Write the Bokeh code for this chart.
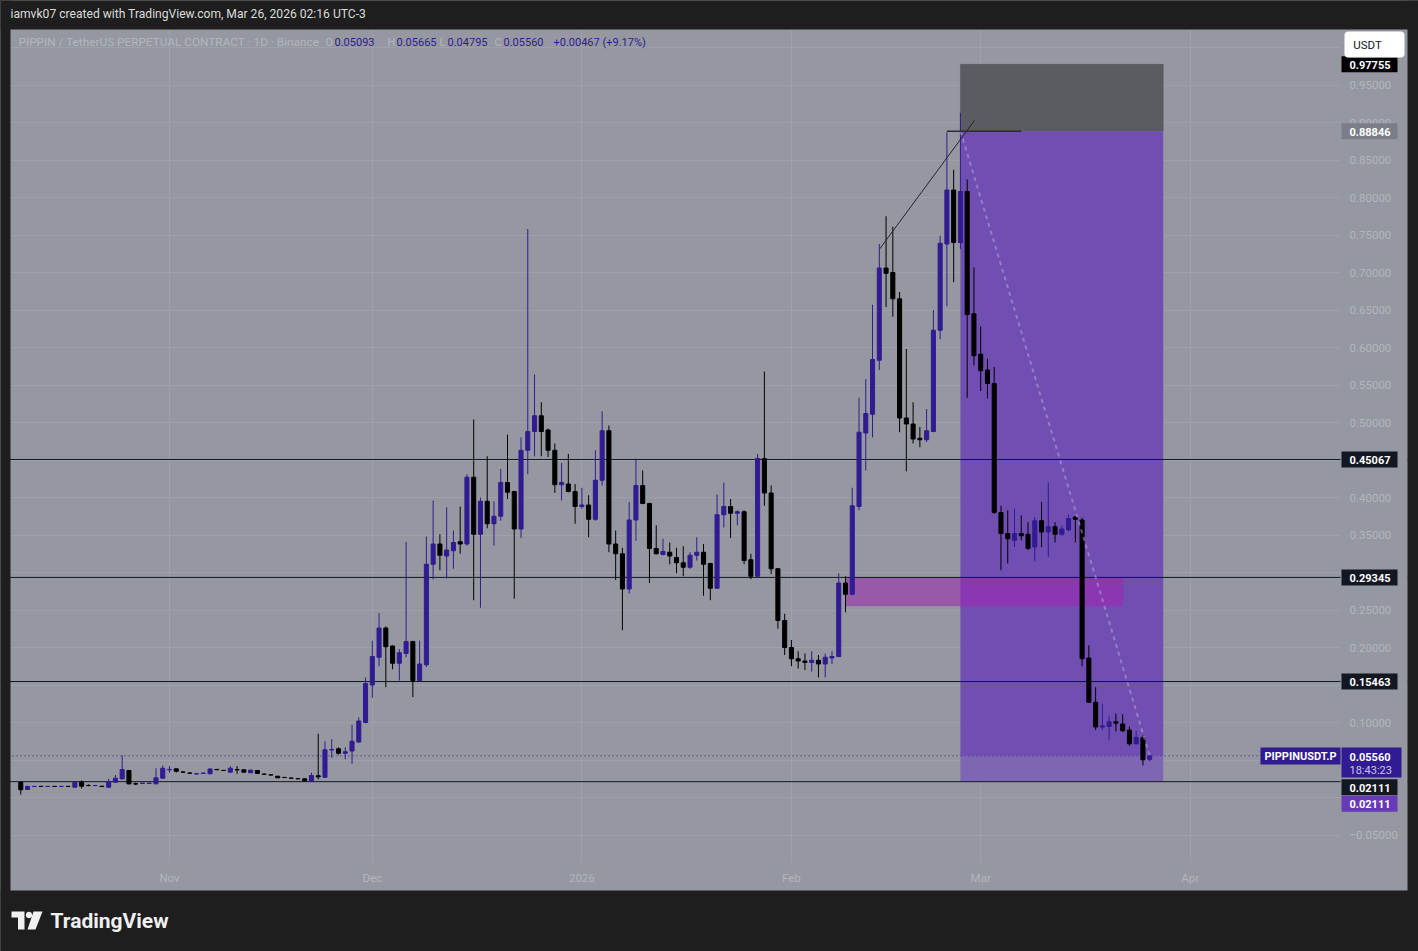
import math
import pandas as pd
from bokeh.plotting import figure
from bokeh.models import (Range1d, FixedTicker, PrintfTickFormatter, Label,
                          BoxAnnotation, Span, PolyAnnotation)
from bokeh.embed import file_html
from bokeh.resources import INLINE

# ---------------- data (daily candles, 2025-10-10 .. 2026-03-26) ----------------
start_date = "2025-10-10"
opens = [
    .0200, .0107, .0146, .0148, .0147, .0148, .0147, .0148, .0137, .0204, .0161, .0159, .0150, .0137, .0204, .0249,
    .0360, .0183, .0188, .0188, .0182, .0258,
    .0370, .0382, .0340, .0326, .0314, .0322, .0316, .0375, .0362, .0338, .0372, .0369, .0330, .0360, .0312, .0302,
    .0284, .0268, .0259, .0251, .0250, .0213, .0290, .0270, .0634, .0650, .0590, .0620, .0740, .1000,
    .1500, .1870, .2260, .2020, .1790, .1920, .2080, .1560, .1770, .3110, .3380, .3220, .3290, .3410, .3380, .4270,
    .3510, .3950, .3650, .3750, .4200, .4080, .3580, .4630, .4880, .5090, .4900, .4630, .4170, .4180, .4080,
    .3880, .3900, .3710, .4230, .4890, .3380, .3250, .2780, .3700, .4160, .3920, .3320, .3240, .3270, .3200,
    .3130, .3070, .3230, .3270, .3120, .2790, .3770, .3880, .3790, .3810, .3170, .2950, .4520, .4060, .3050,
    .2360, .2000, .1850, .1820, .1800, .1830, .1780, .1860, .1880, .2860, .2710, .3880, .4860, .5110, .5830,
    .7060, .7000, .6650, .5060, .4980, .4790, .4770, .4880, .6230, .7380, .8100, .7400, .8080, .6450,
    .5910, .5700, .5520, .3800, .3520, .3430, .3520, .3510, .3340, .3690, .3540, .3610, .3510, .3570, .3740,
    .3700, .1860, .1270, .0940, .0947, .1010, .0980, .0900, .0716, .0796, .05093,
]
highs = [
    .0220, .0160, .0155, .0155, .0155, .0155, .0155, .0155, .0215, .0227, .0175, .0170, .0156, .0250, .0300, .0560,
    .0365, .0200, .0195, .0195, .0390, .0427,
    .0418, .0386, .0350, .0335, .0325, .0330, .0385, .0380, .0366, .0418, .0418, .0372, .0372, .0362, .0316, .0306,
    .0286, .0272, .0263, .0255, .0252, .0330, .0850, .0750, .0780, .0670, .0670, .0970, .1070, .1600,
    .2090, .2460, .2280, .2030, .1980, .3410, .2090, .2090, .3480, .3960, .3510, .3870, .3560, .3880, .4310, .5040,
    .4000, .4550, .3950, .4380, .4840, .4090, .4800, .7580, .5640, .5270, .4920, .4720, .4460, .4580, .4180,
    .4130, .4030, .4630, .5150, .4960, .3560, .3330, .3940, .4520, .4360, .3930, .3630, .3450, .3400, .3330,
    .3350, .3270, .3470, .3380, .3130, .4040, .4200, .3980, .3830, .3830, .3250, .4580, .5680, .4160, .3060,
    .2450, .2100, .1950, .1920, .1950, .1900, .1920, .1950, .2990, .2950, .4130, .5330, .5580, .6570, .7380,
    .7750, .7610, .6740, .5980, .5270, .4940, .5180, .6500, .7490, .8870, .8370, .9130, .8240, .7070,
    .6280, .5850, .5740, .3890, .3830, .3850, .3760, .3670, .3740, .3940, .4200, .3670, .3630, .3770, .3750,
    .3730, .2030, .1470, .1250, .1090, .1120, .1110, .0947, .0890, .0827, .05665,
]
lows = [
    .0040, .0100, .0140, .0140, .0140, .0140, .0140, .0140, .0135, .0120, .0150, .0152, .0143, .0130, .0198, .0240,
    .0175, .0165, .0184, .0184, .0180, .0255,
    .0330, .0335, .0330, .0318, .0308, .0318, .0314, .0365, .0356, .0336, .0316, .0336, .0328, .0318, .0306, .0296,
    .0262, .0264, .0255, .0247, .0220, .0210, .0240, .0260, .0530, .0570, .0510, .0450, .0730, .0990,
    .1330, .1750, .1470, .1710, .1560, .1870, .1340, .1550, .1740, .2910, .3030, .2920, .3050, .3250, .3360, .2630,
    .2530, .3590, .3360, .3690, .3980, .2650, .3460, .4310, .4550, .4550, .4540, .4060, .3960, .4070, .3650,
    .3850, .3470, .3690, .4160, .3270, .2900, .2230, .2720, .3420, .3910, .2860, .3240, .3230, .3110, .2990,
    .2950, .3050, .3160, .2690, .2630, .2780, .3600, .3460, .3630, .3110, .2910, .2940, .3890, .2980, .2250,
    .1900, .1750, .1720, .1700, .1680, .1600, .1600, .1780, .1870, .2470, .2700, .3830, .4360, .4800, .5700,
    .6540, .6410, .4870, .4350, .4720, .4670, .4740, .4870, .6110, .6550, .6870, .7310, .5330, .5760,
    .5420, .5320, .3780, .3030, .3120, .3340, .3430, .3300, .3150, .3340, .3210, .3400, .3490, .3550, .3400,
    .1750, .1260, .0900, .0900, .0770, .0880, .0870, .0690, .0707, .0427, .04795,
]
closes = [
    .0103, .0147, .0148, .0147, .0148, .0147, .0148, .0147, .0204, .0151, .0159, .0160, .0146, .0213, .0257, .0373,
    .0182, .0180, .0191, .0191, .0262, .0390,
    .0375, .0350, .0338, .0324, .0318, .0326, .0380, .0370, .0360, .0390, .0368, .0338, .0365, .0320, .0310, .0300,
    .0262, .0266, .0257, .0249, .0222, .0293, .0275, .0636, .0640, .0590, .0610, .0750, .1020, .1520,
    .1880, .2260, .2010, .1790, .1930, .2080, .1560, .1780, .3110, .3380, .3230, .3300, .3400, .3380, .4270, .3510,
    .3950, .3650, .3750, .4200, .4070, .3580, .4630, .4880, .5090, .4880, .4630, .4170, .4200, .4080, .3880,
    .3900, .3710, .4230, .4890, .3380, .3250, .2780, .3700, .4160, .3920, .3320, .3250, .3280, .3220, .3130,
    .3070, .3230, .3270, .3110, .2790, .3770, .3880, .3790, .3810, .3160, .2950, .4520, .4060, .3050, .2360,
    .2000, .1850, .1820, .1800, .1830, .1780, .1870, .1880, .2860, .2710, .3890, .4870, .5120, .5840, .7060,
    .6990, .6650, .5060, .4980, .4780, .4770, .4890, .6230, .7390, .8100, .7400, .8080, .6440, .5890,
    .5690, .5520, .3800, .3520, .3450, .3520, .3490, .3320, .3690, .3540, .3610, .3510, .3580, .3720, .3710,
    .1850, .1270, .0940, .0955, .1010, .0990, .0890, .0716, .0800, .0503, .05560,
]

month_ticks = [0, 30, 61, 92, 120, 151]          # days since 2025-11-01
month_labels = ["Nov", "Dec", "2026", "Feb", "Mar", "Apr"]
price_ticks = [-0.05, 0.10, 0.20, 0.25, 0.35, 0.40, 0.50, 0.55, 0.60, 0.65, 0.70, 0.75, 0.80, 0.85, 0.90, 0.95]
grid_ticks = [round(-0.05 + 0.05 * i, 2) for i in range(22)]

levels = [0.45067, 0.29345, 0.15463, 0.02111]
last_price = 0.05560
entry_price, stop_price, target_price = 0.88846, 0.97755, 0.02111
pos_start, pos_end = 117.0, 147.0
zone_left, zone_right, zone_low, zone_high = 100.0, 141.1, 0.2551, 0.29345
trend_x, trend_y = [105.07, 119.08], [0.7316, 0.9027]
entry_ray_x = [115.0, 126.0]
path_x, path_y = [117.0, 145.0], [entry_price, last_price]

# ---------------- layout helpers (page pixels -> data) ----------------
def dx(px):
    return (px - 169.0) / 6.76

def dy(py):
    return (797.0 - py) / 750.0

UP, DOWN = "#311b92", "#000000"
PANEL, DARK = "#9598a1", "#1e1e1e"
FAINT = "#b3b6bd"
FONT = "Roboto"

dates = pd.date_range(start_date, periods=len(opens), freq="D")
day = (dates - pd.Timestamp("2025-11-01")).days.to_numpy()
colors = [UP if c >= o else DOWN for o, c in zip(opens, closes)]
tops = [max(o, c) for o, c in zip(opens, closes)]
bots = [min(o, c) for o, c in zip(opens, closes)]

p = figure(width=1418, height=951, output_backend="svg", toolbar_location=None,
           x_range=Range1d(dx(0), dx(1418)), y_range=Range1d(dy(951), dy(0)),
           y_axis_location="right", min_border=0,
           min_border_left=0, min_border_right=0, min_border_top=0, min_border_bottom=0,
           background_fill_color=PANEL, border_fill_color=DARK, outline_line_color=None)

# axes, drawn inside the frame at the chart edges
yax = p.yaxis[0]
yax.fixed_location = dx(1340)
yax.ticker = FixedTicker(ticks=price_ticks)
yax.formatter = PrintfTickFormatter(format="%.5f")
yax.major_label_overrides = {-0.05: "\u22120.05000"}
xax = p.xaxis[0]
xax.fixed_location = dy(862)
xax.ticker = FixedTicker(ticks=month_ticks)
xax.major_label_overrides = {t: l for t, l in zip(month_ticks, month_labels)}
for ax in (xax, yax):
    ax.axis_line_color = None
    ax.major_tick_line_color = None
    ax.minor_tick_line_color = None
    ax.major_tick_out = 0
    ax.major_tick_in = 0
    ax.minor_tick_out = 0
    ax.minor_tick_in = 0
    ax.major_label_text_color = FAINT
    ax.major_label_text_font = FONT
    ax.major_label_text_font_size = "11.5px"
yax.major_label_standoff = 9
xax.major_label_standoff = 8

p.ygrid.ticker = FixedTicker(ticks=grid_ticks)
p.xgrid.ticker = FixedTicker(ticks=month_ticks)
p.grid.grid_line_color = "#a1a4ac"
p.grid.grid_line_alpha = 0.8

def box(l, r, t, b, color, alpha=1.0, level="underlay", **kw):
    p.add_layout(BoxAnnotation(left=l, right=r, top=t, bottom=b, fill_color=color,
                               fill_alpha=alpha, level=level, **{"line_color": None, **kw}))

# position tool (short): stop area + target area
box(pos_start, pos_end, stop_price, entry_price, "#5b5c62", line_color="#45464b", line_width=1)
box(pos_start, pos_end, entry_price, last_price, "#714eb2")
box(pos_start, pos_end, last_price, target_price, "#7f66b4")
# zone rectangle
box(zone_left, zone_right, zone_high, zone_low, "#9c27b0", alpha=0.55)

# horizontal levels
for lv in levels:
    p.add_layout(Span(location=lv, dimension="width", line_color="#131722", line_width=1, level="underlay"))
p.add_layout(Span(location=last_price, dimension="width", line_color=UP, line_width=1,
                  line_dash="1 3", level="underlay"))

# chrome: price scale / time scale areas and dark frame around the chart panel
box(dx(1340), dx(1407), dy(29), dy(890), PANEL)
box(dx(10), dx(1340), dy(862), dy(890), PANEL)
box(dx(0), dx(1418), dy(0), dy(29), DARK)
box(dx(0), dx(1418), dy(890), dy(951), DARK)
box(dx(0), dx(10), dy(0), dy(951), DARK)
box(dx(1407), dx(1418), dy(0), dy(951), DARK)

# candles
p.segment(x0=day, y0=lows, x1=day, y1=highs, line_color=colors, line_width=1)
p.vbar(x=day, width=0.6, top=tops, bottom=bots, fill_color=colors, line_color=colors, line_width=1)

# drawings
p.line(path_x, path_y, line_color="#c7b3e6", line_alpha=0.45, line_width=2, line_dash="4 4")
p.line(trend_x, trend_y, line_color="#22252e", line_width=1)
p.line(entry_ray_x, [entry_price, entry_price], line_color="#2b2d33", line_width=1.5)

# price scale labels
def label(px, py, text, color, size="11px", style="normal", align="left"):
    p.add_layout(Label(x=dx(px), y=dy(py), text=text, text_color=color, text_font=FONT,
                       text_font_size=size, text_font_style=style, text_baseline="middle",
                       text_align=align))

def price_box(price, fill, text, off=0.0):
    yc = 797.0 - price * 750.0 + off
    box(dx(1341), dx(1397), dy(yc - 8), dy(yc + 8), fill, level="annotation")
    label(1349, yc + 0.5, text, "white", style="bold")

price_box(stop_price, "#000000", "0.97755")
price_box(entry_price, "#7b7e88", "0.88846")
for lv in levels[:3]:
    price_box(lv, "#131722", f"{lv:.5f}")
price_box(target_price, "#131722", "0.02111", off=5.5)
price_box(target_price, "#673ab7", "0.02111", off=22.0)

# last price label with countdown
box(dx(1341), dx(1401), dy(747), dy(777), UP, level="annotation")
label(1349, 756, f"{last_price:.5f}", "white", style="bold")
label(1349, 770, "18:43:23", "#cdc4ee")
box(dx(1260), dx(1340), dy(747), dy(764), UP, level="annotation")
label(1300, 756, "PIPPINUSDT.P", "white", style="bold", align="center")

# currency button
p.add_layout(BoxAnnotation(left=dx(1344), right=dx(1404), top=dy(31), bottom=dy(57),
                           fill_color="#ffffff", fill_alpha=1, line_color="#d0d3da", border_radius=4))
label(1367, 44.5, "USDT", "#131722", size="11.5px", align="center")

# legend line
legend_parts = [
    (18, "PIPPIN / TetherUS PERPETUAL CONTRACT \u00b7 1D \u00b7 Binance", FAINT),
    (325, "O", FAINT), (334, f"{opens[-1]:.5f}", UP),
    (387, "H", FAINT), (396, f"{highs[-1]:.5f}", UP),
    (439, "L", FAINT), (447, f"{lows[-1]:.5f}", UP),
    (494, "C", FAINT), (503, f"{closes[-1]:.5f}", UP),
    (553, f"+{closes[-1] - opens[-1]:.5f} (+{(closes[-1] / opens[-1] - 1) * 100:.2f}%)", UP),
]
for i, (px, txt, col) in enumerate(legend_parts):
    label(px, 41.5, txt, col, size="11.8px" if i == 0 else "11px")

# header + footer
label(10, 13, "iamvk07 created with TradingView.com, Mar 26, 2026 02:16 UTC-3", "#dcdcdc", size="12.1px")
label(50, 920, "TradingView", "#f0f0f0", size="21px", style="bold")
logo_parts = [
    ([11, 24, 24, 17.5, 17.5, 11], [911, 911, 929, 929, 917, 917]),
    ([33, 42, 35, 27], [911, 911, 929, 929]),
    ([28.5 + 3.2 * math.cos(a * math.pi / 8) for a in range(16)],
     [914.5 + 3.2 * math.sin(a * math.pi / 8) for a in range(16)]),
]
for xs_px, ys_px in logo_parts:
    p.add_layout(PolyAnnotation(xs=[dx(v) for v in xs_px], ys=[dy(v) for v in ys_px],
                                fill_color="#f0f0f0", fill_alpha=1, line_color=None))

html = file_html(p, INLINE, title="PIPPINUSDT.P")
html = html.replace("<head>", "<head><style>html,body{margin:0;padding:0;background:#1e1e1e;overflow:hidden;}</style>", 1)
open("out.html", "w").write(html)
